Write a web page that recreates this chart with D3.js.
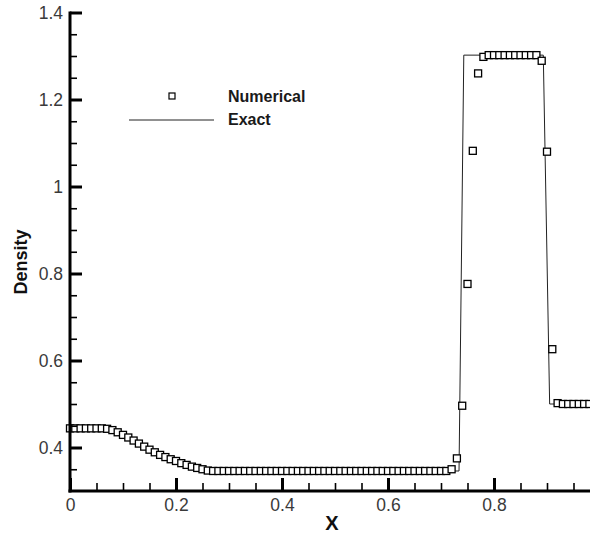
<!DOCTYPE html>
<html>
<head>
<meta charset="utf-8">
<script src="https://cdn.jsdelivr.net/npm/d3@7.9.0/dist/d3.min.js"></script>
<style>
  body { margin: 0; background: #fff; }
  svg { display: block; font-family: 'Liberation Sans', Arial, sans-serif; }
</style>
</head>
<body>
<div id="chart"></div>
<script>
// numerical solution, one point per 0.01 in x
const numX = [
  0.00, 0.01, 0.02, 0.03, 0.04, 0.05, 0.06, 0.07, 0.08, 0.09,
  0.10, 0.11, 0.12, 0.13, 0.14, 0.15, 0.16, 0.17, 0.18, 0.19,
  0.20, 0.21, 0.22, 0.23, 0.24, 0.25, 0.26, 0.27, 0.28, 0.29,
  0.30, 0.31, 0.32, 0.33, 0.34, 0.35, 0.36, 0.37, 0.38, 0.39,
  0.40, 0.41, 0.42, 0.43, 0.44, 0.45, 0.46, 0.47, 0.48, 0.49,
  0.50, 0.51, 0.52, 0.53, 0.54, 0.55, 0.56, 0.57, 0.58, 0.59,
  0.60, 0.61, 0.62, 0.63, 0.64, 0.65, 0.66, 0.67, 0.68, 0.69,
  0.70, 0.71, 0.72, 0.73, 0.74, 0.75, 0.76, 0.77, 0.78, 0.79,
  0.80, 0.81, 0.82, 0.83, 0.84, 0.85, 0.86, 0.87, 0.88, 0.89,
  0.90, 0.91, 0.92, 0.93, 0.94, 0.95, 0.96, 0.97, 0.98
];
const numDensity = [
  0.444, 0.444, 0.444, 0.444, 0.444, 0.444, 0.444, 0.443, 0.440, 0.435,
  0.429, 0.423, 0.416, 0.409, 0.402, 0.395, 0.389, 0.383, 0.378, 0.373,
  0.369, 0.364, 0.360, 0.356, 0.353, 0.350, 0.347, 0.346, 0.346, 0.346,
  0.346, 0.346, 0.346, 0.346, 0.346, 0.346, 0.346, 0.346, 0.346, 0.346,
  0.346, 0.346, 0.346, 0.346, 0.346, 0.346, 0.346, 0.346, 0.346, 0.346,
  0.346, 0.346, 0.346, 0.346, 0.346, 0.346, 0.346, 0.346, 0.346, 0.346,
  0.346, 0.346, 0.346, 0.346, 0.346, 0.346, 0.346, 0.346, 0.346, 0.346,
  0.346, 0.346, 0.350, 0.375, 0.496, 0.776, 1.082, 1.260, 1.298, 1.302,
  1.302, 1.302, 1.302, 1.302, 1.302, 1.302, 1.302, 1.302, 1.302, 1.289,
  1.080, 0.626, 0.502, 0.500, 0.500, 0.500, 0.500, 0.500, 0.500
];

// exact solution
const exactX = [0, 0.075, 0.09, 0.11, 0.13, 0.15, 0.17, 0.19, 0.21, 0.23, 0.25, 0.265,
  0.734, 0.743, 0.893, 0.905, 1.0];
const exactDensity = [0.445, 0.445, 0.437, 0.425, 0.411, 0.397, 0.384, 0.373, 0.363, 0.355, 0.349, 0.346,
  0.346, 1.302, 1.302, 0.500, 0.500];

const xMajor = [0, 0.2, 0.4, 0.6, 0.8];
const xMinor = [0.05, 0.1, 0.15, 0.25, 0.3, 0.35, 0.45, 0.5, 0.55, 0.65, 0.7, 0.75, 0.85, 0.9, 0.95];
const yMajor = [0.4, 0.6, 0.8, 1, 1.2, 1.4];
const yMinor = [0.35, 0.45, 0.5, 0.55, 0.65, 0.7, 0.75, 0.85, 0.9, 0.95, 1.05, 1.1, 1.15, 1.25, 1.3, 1.35];

const width = 590;
const height = 535;
const plot = { left: 70, right: 600, top: 12.5, bottom: 491 };

const svg = d3.select('#chart')
  .append('svg')
  .attr('width', width)
  .attr('height', height);

const xScale = d3.scaleLinear().domain([0, 1]).range([plot.left, plot.right]);
const yScale = d3.scaleLinear().domain([0.3, 1.4]).range([plot.bottom, plot.top]);

const numData = numX.map((x, i) => ({ x, y: numDensity[i] }));
const exactData = exactX.map((x, i) => ({ x, y: exactDensity[i] }));

// exact line
const line = d3.line().x(d => xScale(d.x)).y(d => yScale(d.y));
svg.append('path')
  .datum(exactData)
  .attr('d', line)
  .attr('fill', 'none')
  .attr('stroke', '#222')
  .attr('stroke-width', 1);

// numerical squares
const sq = 7;
svg.append('g')
  .attr('class', 'dots')
  .selectAll('rect')
  .data(numData)
  .enter()
  .append('rect')
  .attr('x', d => xScale(d.x) - sq / 2)
  .attr('y', d => yScale(d.y) - sq / 2)
  .attr('width', sq)
  .attr('height', sq)
  .attr('fill', '#fff')
  .attr('stroke', '#000')
  .attr('stroke-width', 1.3);

// axes: ticks point into the plot
function styleAxis(g, w) {
  g.select('.domain').remove();
  g.selectAll('.tick line').attr('stroke', '#000').attr('stroke-width', w);
}

svg.append('g')
  .attr('transform', `translate(0, ${plot.bottom})`)
  .call(d3.axisBottom(xScale).tickValues(xMinor).tickSize(-8).tickFormat(''))
  .call(g => styleAxis(g, 1.6));

svg.append('g')
  .attr('class', 'x-axis')
  .attr('transform', `translate(0, ${plot.bottom})`)
  .call(d3.axisBottom(xScale).tickValues(xMajor).tickSize(-13).tickPadding(7).tickFormat(d3.format('')))
  .call(g => styleAxis(g, 3))
  .call(g => g.selectAll('text')
    .attr('font-size', '17.5px')
    .attr('fill', '#3a3a3a')
    .attr('dy', '0.71em')
    .attr('y', 8));

svg.append('g')
  .attr('transform', `translate(${plot.left}, 0)`)
  .call(d3.axisLeft(yScale).tickValues(yMinor).tickSize(-7).tickFormat(''))
  .call(g => styleAxis(g, 1.6));

svg.append('g')
  .attr('class', 'y-axis')
  .attr('transform', `translate(${plot.left}, 0)`)
  .call(d3.axisLeft(yScale).tickValues(yMajor).tickSize(-12).tickFormat(d3.format('')))
  .call(g => styleAxis(g, 3))
  .call(g => g.selectAll('text')
    .attr('font-size', '17.5px')
    .attr('fill', '#3a3a3a')
    .attr('x', -7));

// axis lines
svg.append('line')
  .attr('x1', plot.left - 1.5).attr('x2', width)
  .attr('y1', plot.bottom).attr('y2', plot.bottom)
  .attr('stroke', '#000').attr('stroke-width', 3);
svg.append('line')
  .attr('x1', plot.left).attr('x2', plot.left)
  .attr('y1', plot.top - 1).attr('y2', plot.bottom + 1.5)
  .attr('stroke', '#000').attr('stroke-width', 3);

// axis titles
svg.append('text')
  .attr('x', 332)
  .attr('y', 530)
  .attr('text-anchor', 'middle')
  .attr('font-size', '20px')
  .attr('font-weight', 'bold')
  .attr('fill', '#111')
  .text('X');

svg.append('text')
  .attr('transform', 'translate(27, 262) rotate(-90)')
  .attr('text-anchor', 'middle')
  .attr('font-size', '18px')
  .attr('font-weight', 'bold')
  .attr('fill', '#111')
  .text('Density');

// legend
const legend = svg.append('g').attr('class', 'legend');
legend.append('rect')
  .attr('x', 172 - 3).attr('y', 96 - 3)
  .attr('width', 6).attr('height', 6)
  .attr('fill', '#fff').attr('stroke', '#000').attr('stroke-width', 1.2);
legend.append('line')
  .attr('x1', 129).attr('x2', 214)
  .attr('y1', 120).attr('y2', 120)
  .attr('stroke', '#222').attr('stroke-width', 1);
legend.append('text')
  .attr('x', 228).attr('y', 101.5)
  .attr('font-size', '16px').attr('font-weight', 'bold').attr('fill', '#1a1a1a')
  .text('Numerical');
legend.append('text')
  .attr('x', 228).attr('y', 124.5)
  .attr('font-size', '16px').attr('font-weight', 'bold').attr('fill', '#1a1a1a')
  .text('Exact');
</script>
</body>
</html>
